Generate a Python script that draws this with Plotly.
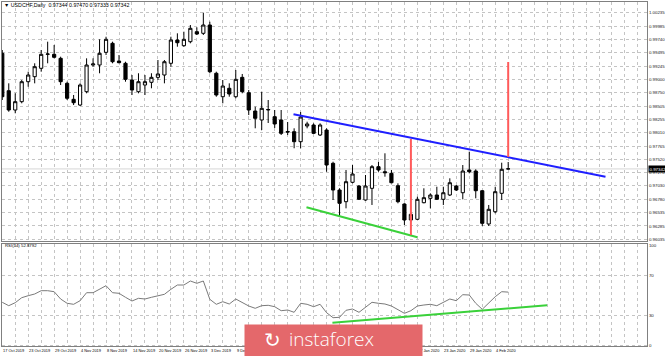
import pandas as pd
import plotly.graph_objects as go

# ---------------- data ----------------
holidays = ["2019-11-28", "2020-01-01"]
bar_dates = [d for d in pd.bdate_range("2019-10-17", "2020-02-06")
             if d.strftime("%Y-%m-%d") not in holidays]

open_ = [0.99483, 0.98790, 0.98433, 0.98587, 0.98957, 0.99050, 0.99205, 0.99464, 0.99464, 0.99390,
         0.98927, 0.98631, 0.98525, 0.98772, 0.99266, 0.99266, 0.99501, 0.99668, 0.99340, 0.99298,
         0.98988, 0.98772, 0.98896, 0.98946, 0.99038, 0.99081, 0.99298, 0.99729, 0.99624, 0.99698,
         0.99883, 0.99853, 1.00007, 0.99113, 0.98679, 0.98835, 0.98679, 0.99038, 0.98753, 0.98414,
         0.98248, 0.98433, 0.98309, 0.98248, 0.98035, 0.98031, 0.97846, 0.98137, 0.98155, 0.97970,
         0.98062, 0.97446, 0.96951, 0.96735, 0.97094, 0.97025, 0.96766, 0.96983, 0.97383, 0.97290,
         0.97260, 0.97031, 0.96692, 0.96396, 0.96409, 0.96716, 0.96797, 0.96859, 0.96779, 0.96859,
         0.97025, 0.96901, 0.97322, 0.97303, 0.96938, 0.96322, 0.96549, 0.96890, 0.97344]
high = [0.99544, 0.98927, 0.98742, 0.98988, 0.99142, 0.99298, 0.99544, 0.99698, 0.99637, 0.99420,
        0.98957, 0.98711, 0.98927, 0.99390, 0.99390, 0.99742, 0.99790, 0.99698, 0.99451, 0.99327,
        0.99081, 0.99113, 0.99081, 0.99113, 0.99359, 0.99359, 0.99790, 0.99853, 0.99883, 1.00007,
        0.99964, 1.00235, 1.00068, 0.99142, 0.98988, 0.98927, 0.99174, 0.99100, 0.98803, 0.98494,
        0.98772, 0.98618, 0.98433, 0.98433, 0.98211, 0.98094, 0.98396, 0.98216, 0.98186, 0.98186,
        0.98094, 0.97475, 0.96983, 0.97322, 0.97414, 0.97044, 0.97229, 0.97414, 0.97475, 0.97631,
        0.97322, 0.97075, 0.96705, 0.96520, 0.96827, 0.96983, 0.96890, 0.97012, 0.97012, 0.97168,
        0.97044, 0.97414, 0.97661, 0.97335, 0.96951, 0.96674, 0.97012, 0.97457, 0.97470]
low = [0.98618, 0.98401, 0.98372, 0.98557, 0.98864, 0.98927, 0.99142, 0.99298, 0.99390, 0.98896,
       0.98618, 0.98525, 0.98507, 0.98742, 0.99235, 0.99113, 0.99451, 0.99298, 0.99298, 0.98957,
       0.98711, 0.98742, 0.98711, 0.98835, 0.98988, 0.98927, 0.99235, 0.99605, 0.99605, 0.99668,
       0.99822, 0.99822, 0.99113, 0.98679, 0.98557, 0.98679, 0.98650, 0.98742, 0.98340, 0.98094,
       0.98062, 0.98192, 0.98100, 0.97970, 0.97970, 0.97724, 0.97724, 0.98094, 0.97988, 0.97951,
       0.97290, 0.96766, 0.96457, 0.96612, 0.97075, 0.96766, 0.96753, 0.96674, 0.97290, 0.97198,
       0.97075, 0.96705, 0.96303, 0.96364, 0.96396, 0.96705, 0.96612, 0.96766, 0.96674, 0.96840,
       0.96933, 0.96779, 0.97260, 0.96797, 0.96285, 0.96285, 0.96520, 0.96766, 0.97333]
close = [0.98679, 0.98433, 0.98587, 0.98957, 0.99081, 0.99235, 0.99464, 0.99470, 0.99409, 0.98957,
         0.98650, 0.98568, 0.98896, 0.99266, 0.99285, 0.99483, 0.99742, 0.99327, 0.99309, 0.99001,
         0.98803, 0.98957, 0.98957, 0.99038, 0.99100, 0.99327, 0.99729, 0.99679, 0.99742, 0.99946,
         0.99840, 1.00007, 0.99142, 0.98711, 0.98877, 0.98729, 0.99001, 0.98772, 0.98433, 0.98279,
         0.98464, 0.98442, 0.98174, 0.98001, 0.98025, 0.97846, 0.98303, 0.98174, 0.98001, 0.98155,
         0.97414, 0.96951, 0.96705, 0.97105, 0.97248, 0.96779, 0.97025, 0.97383, 0.97322, 0.97272,
         0.97086, 0.96735, 0.96396, 0.96501, 0.96779, 0.96809, 0.96859, 0.96779, 0.96901, 0.97086,
         0.96951, 0.97303, 0.97290, 0.96938, 0.96334, 0.96594, 0.96920, 0.97335, 0.97342]

rsi = [42.7, 39.3, 42.3, 47.3, 49.3, 51.0, 54.3, 54.3, 53.3, 46.0,
       41.7, 40.7, 44.3, 52.3, 52.3, 56.0, 59.3, 52.3, 51.7, 47.7,
       44.0, 46.7, 46.0, 47.7, 49.3, 50.7, 55.7, 60.0, 60.0, 64.0,
       61.7, 64.0, 45.7, 40.7, 43.3, 41.0, 46.0, 42.7, 39.0, 36.7,
       39.3, 39.7, 38.3, 34.3, 35.0, 32.7, 41.7, 40.7, 38.3, 40.7,
       32.3, 27.3, 27.7, 34.7, 36.0, 32.7, 37.3, 42.7, 41.7, 41.0,
       39.0, 35.7, 31.7, 34.3, 39.0, 40.0, 40.7, 39.3, 42.7, 46.0,
       44.3, 50.3, 50.0, 41.7, 35.7, 42.3, 48.3, 53.3, 52.88]

# analyst drawings (bar position, value)
resist_x = [44.9, 93.0]
resist_y = [0.98353, 0.97198]
support_x = [46.9, 64.0]
support_y = [0.96631, 0.96075]
measure1_x = [63, 63]
measure1_y = [0.96118, 0.97896]
measure2_x = [78, 78]
measure2_y = [0.97562, 0.99322]
rsi_trend_x = [50.9, 84.0]
rsi_trend_y = [22.3, 39.7]

price_tick_labels = ["1.00235", "0.99985", "0.99740", "0.99495", "0.99245", "0.99000",
                     "0.98750", "0.98505", "0.98255", "0.98010", "0.97765", "0.97520",
                     "0.97270", "0.97030", "0.96780", "0.96535", "0.96285", "0.96035"]
rsi_tick_labels = ["0", "30", "70", "100"]

title_text = "▼ USDCHF,Daily  0.97344 0.97470 0.97333 0.97342"
rsi_text = "RSI(14) 52.8792"
last_price = 0.97342

# ---------------- figure ----------------
bar_x = list(range(len(bar_dates)))
hover = [d.strftime("%d %b %Y") for d in bar_dates]

fig = go.Figure()
fig.add_trace(go.Candlestick(
    x=bar_x, open=open_, high=high, low=low, close=close, text=hover,
    increasing=dict(line=dict(color="black", width=1), fillcolor="white"),
    decreasing=dict(line=dict(color="black", width=1), fillcolor="black"),
    xaxis="x", yaxis="y", showlegend=False))

line_specs = [
    (resist_x, resist_y, "#1f1fff", 2, "x", "y"),
    (support_x, support_y, "#3ad13a", 2, "x", "y"),
    (measure1_x, measure1_y, "#ff5a5a", 2, "x", "y"),
    (measure2_x, measure2_y, "#ff5a5a", 2, "x", "y"),
]
for xs, ys, col, w, xa, ya in line_specs:
    fig.add_trace(go.Scatter(x=xs, y=ys, mode="lines", line=dict(color=col, width=w),
                             xaxis=xa, yaxis=ya, showlegend=False, hoverinfo="skip"))

fig.add_trace(go.Scatter(x=bar_x, y=rsi, mode="lines", line=dict(color="#7a7a7a", width=1),
                         xaxis="x2", yaxis="y2", showlegend=False))
fig.add_trace(go.Scatter(x=rsi_trend_x, y=rsi_trend_y, mode="lines",
                         line=dict(color="#3ad13a", width=2),
                         xaxis="x2", yaxis="y2", showlegend=False, hoverinfo="skip"))

W, H = 665, 356
ml, mr, mt, mb = 2, 18, 2, 10
plot_h = H - mt - mb
plot_w = W - ml - mr


def py(pix):
    return (H - mb - pix) / plot_h


def px(pix):
    return (pix - ml) / plot_w


grid = dict(showgrid=True, gridcolor="#c4c4c4", griddash="dot", gridwidth=1)
frame = dict(showline=True, mirror=True, linecolor="#808080", linewidth=1, zeroline=False)
xrange = [-0.04, 99.4]
tickfont = dict(family="Liberation Sans", size=4.4, color="#222222")

fig.update_layout(
    width=W, height=H, margin=dict(l=ml, r=mr, t=mt, b=mb),
    paper_bgcolor="white", plot_bgcolor="white",
    xaxis=dict(domain=[0, 1], anchor="y", range=xrange, tick0=0, dtick=2,
               showticklabels=False, ticks="", rangeslider=dict(visible=False), **grid, **frame),
    yaxis=dict(domain=[py(241), 1], anchor="x", range=[0.96007, 1.00433], side="right",
               tickvals=[float(s) for s in price_tick_labels], ticktext=price_tick_labels,
               tickfont=tickfont, ticks="", automargin=False, **grid, **frame),
    xaxis2=dict(domain=[0, 1], anchor="y2", range=xrange, tick0=0, dtick=2,
                showticklabels=False, ticks="", **grid, **frame),
    yaxis2=dict(domain=[0, py(244)], anchor="x2", range=[-1, 101], side="right",
                tickvals=[float(s) for s in rsi_tick_labels], ticktext=rsi_tick_labels,
                tickfont=tickfont, ticks="", automargin=False, **grid, **frame),
    font=dict(family="Liberation Sans"),
    shapes=[dict(type="line", xref="paper", x0=0, x1=1, yref="y", y0=last_price, y1=last_price,
                 line=dict(color="#d6d6d6", width=1), layer="below")],
)

ann = []
ann.append(dict(text=title_text, xref="paper", yref="paper", x=px(2), y=py(4.5),
                xanchor="left", yanchor="middle", showarrow=False,
                font=dict(family="Liberation Sans", size=5.3, color="black")))
ann.append(dict(text=rsi_text, xref="paper", yref="paper", x=px(2.5), y=py(246),
                xanchor="left", yanchor="middle", showarrow=False,
                font=dict(family="Liberation Sans", size=4.3, color="black")))
ann.append(dict(text=f"{last_price:.5f}", xref="paper", yref="y", x=1, y=last_price,
                xanchor="left", yanchor="middle", xshift=1, showarrow=False, bgcolor="black",
                borderpad=0.5, font=dict(family="Liberation Sans", size=4.4, color="white")))
for i in range(0, len(bar_dates), 4):
    d = bar_dates[i]
    ann.append(dict(text=f"{d.day} {d.strftime('%b %Y')}", xref="paper", yref="paper",
                    x=(i - xrange[0]) / (xrange[1] - xrange[0]),
                    y=py(350.5), xanchor="left", yanchor="middle", xshift=-1, showarrow=False,
                    font=dict(family="Liberation Sans", size=3.9, color="black")))
# watermark
ann.append(dict(text=" ", xref="paper", yref="paper", x=px(333.5), y=py(341), width=177,
                height=32, borderpad=0, bgcolor="#e4686b", xanchor="center", yanchor="middle",
                showarrow=False))
ann.append(dict(text="↻", xref="paper", yref="paper", x=px(272), y=py(340),
                xanchor="center", yanchor="middle", showarrow=False,
                font=dict(family="DejaVu Sans", size=20, color="white")))
ann.append(dict(text="instaforex", xref="paper", yref="paper", x=px(331.5), y=py(339),
                xanchor="center", yanchor="middle", showarrow=False,
                font=dict(family="Open Sans", size=19, weight=300, color="white")))
fig.update_layout(annotations=ann)

fig.write_html("out.html",
               config={"displayModeBar": False},
               post_script="document.body.style.margin='0';document.body.style.padding='0';"
                           "document.body.style.overflow='hidden';")
